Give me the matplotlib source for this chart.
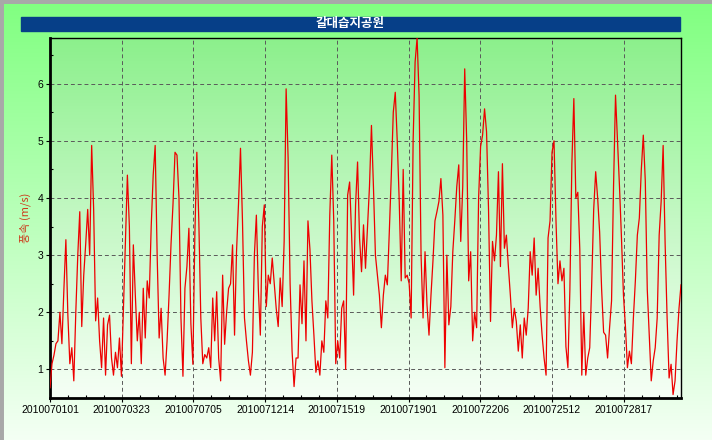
import numpy as np
import matplotlib
matplotlib.use('Agg')
import matplotlib.pyplot as plt
from matplotlib.colors import LinearSegmentedColormap
from matplotlib.patches import Rectangle

plt.rcParams['font.family'] = ['Liberation Sans', 'Noto Sans CJK KR', 'DejaVu Sans']

# wind speed (m/s) left to right
wind_speed = [
    0.68, 1.1, 1.25, 1.45, 1.5, 2.0, 1.45, 2.4, 3.27, 1.95,
    1.1, 1.38, 0.8, 2.0, 3.0, 3.76, 1.75, 2.65, 3.2, 3.8,
    3.0, 4.92, 3.8, 1.85, 2.25, 1.5, 1.03, 1.9, 0.9, 1.78,
    1.95, 1.2, 0.9, 1.3, 1.03, 1.55, 0.88, 2.07, 3.2, 4.4,
    3.5, 1.1, 3.18, 2.3, 1.5, 2.0, 1.1, 2.42, 1.55, 2.55,
    2.25, 3.5, 4.4, 4.92, 3.0, 1.55, 2.07, 1.2, 0.9, 1.5,
    2.3, 3.2, 3.9, 4.8,
    4.75, 4.0, 1.9, 0.88, 2.42, 2.8, 3.47, 1.8, 1.09, 3.35,
    4.8, 3.6, 1.9, 1.1, 1.26, 1.2, 1.38, 1.03, 2.25, 1.5,
    2.36, 1.2, 0.8, 2.65, 1.44, 2.0, 2.42, 2.5, 3.18, 1.6,
    3.06, 3.9, 4.87, 3.6, 1.9, 1.5, 1.15, 0.9, 1.3, 3.0,
    3.7, 2.4, 1.6, 3.5, 3.88, 2.1, 2.65, 2.5, 2.95, 2.5,
    2.07, 1.75, 2.6, 2.1, 3.24, 5.91, 4.7, 2.5, 1.32, 0.7,
    1.2, 1.2, 2.48, 1.8,
    2.9, 1.5, 3.6, 3.1, 2.2, 1.6, 0.95, 1.15, 0.9, 1.5,
    1.3, 2.2, 1.9, 3.7, 4.75, 3.6, 1.1, 1.5, 1.2, 2.07,
    2.2, 1.0, 4.05, 4.28, 3.35, 2.3, 3.88, 4.63, 3.3, 2.71,
    3.53, 2.77, 3.5, 4.2, 5.27, 4.2, 3.0, 2.65, 2.3, 1.73,
    2.3, 2.65, 2.48, 3.41, 4.4, 5.5, 5.85, 5.0, 3.94, 2.55,
    4.5, 2.6, 2.65, 2.5, 1.9, 5.0, 6.38, 6.8, 5.8, 3.0,
    1.9, 3.06, 2.13, 1.6,
    2.3, 2.9, 3.6, 3.76, 3.94, 4.34, 3.7, 1.03, 3.0, 1.78,
    2.1, 3.06, 3.6, 4.2, 4.58, 3.24, 4.2, 6.26, 5.0, 2.55,
    3.06, 1.5, 2.0, 1.73, 4.0, 4.9, 5.1, 5.56, 5.16, 3.8,
    1.84, 3.24, 2.9, 3.35, 4.46, 2.8, 4.6, 3.12, 3.35, 2.8,
    2.3, 1.73, 2.07, 1.84, 1.32, 1.78, 1.2, 1.9, 1.6, 2.07,
    3.06, 2.65, 3.3, 2.3, 2.77, 2.1, 1.6, 1.2, 0.9, 3.3,
    3.6, 4.8, 5.0, 3.6,
    2.5, 2.9, 2.55, 2.77, 1.4, 1.03, 2.4, 4.6, 5.74, 4.0,
    4.1, 3.1, 0.9, 2.0, 0.9, 1.2, 1.38, 2.5, 3.8, 4.46,
    4.0, 3.4, 2.4, 1.65, 1.6, 1.2, 1.73, 2.2, 4.2, 5.8,
    5.0, 4.2, 3.3, 2.3, 1.75, 1.03, 1.32, 1.1, 1.9, 2.55,
    3.35, 3.65, 4.5, 5.1, 4.3, 2.4, 1.6, 0.8, 1.15, 1.38,
    1.9, 3.35, 3.94, 4.92, 3.2, 1.9, 0.85, 1.09, 0.56, 0.8,
    1.5, 2.07, 2.48,
]

tick_labels = ['2010070101', '2010070323', '2010070705', '2010071214', '2010071519',
               '2010071901', '2010072206', '2010072512', '2010072817']
tick_every = 70      # records between labels
n_records = 616

title = '갈대습지공원'
ylabel = '풍속 (m/s)'

x = np.linspace(0, n_records, len(wind_speed))
tick_pos = np.arange(len(tick_labels)) * tick_every

fig = plt.figure(figsize=(7.12, 4.40), dpi=100)

# outer gradient background
grad = np.linspace(0, 1, 256).reshape(-1, 1)
bg = fig.add_axes([0, 0, 1, 1], zorder=-5)
bg.imshow(grad, aspect='auto', extent=[0, 1, 0, 1], origin='upper',
          cmap=LinearSegmentedColormap.from_list('outer', ['#80ff80', '#f4fff4']))
bg.set_xlim(0, 1)
bg.set_ylim(0, 1)
bg.plot([0, 0, 1], [0, 1, 1], color='#a8a8a8', lw=5, clip_on=False)
bg.set_axis_off()

# title bar
fig.patches.append(Rectangle((21 / 712, 1 - 31 / 440), 659 / 712, 14 / 440,
                             transform=fig.transFigure, color='#063f88', zorder=1))
fig.text(350.5 / 712, 1 - 24 / 440, title, ha='center', va='center', color='white',
         fontsize=9, fontweight='bold', family=['Noto Sans CJK KR', 'DejaVu Sans'])

ax = fig.add_axes([50 / 712, 1 - 398 / 440, 631 / 712, 360 / 440])
ax.patch.set_visible(False)
ax.imshow(grad, aspect='auto', extent=[0, n_records, 0.5, 6.8], origin='upper', zorder=0,
          cmap=LinearSegmentedColormap.from_list('inner', ['#8cf08c', '#c4f8c4', '#f6fff6']))
ax.plot(x, wind_speed, color='#ee0000', lw=0.9, zorder=3)

ax.set_xlim(0, n_records)
ax.set_ylim(0.5, 6.8)
ax.set_xticks(tick_pos, tick_labels)
ax.set_xticks(np.arange(0, n_records, tick_every / 4), minor=True)
ax.set_yticks(range(1, 7))
ax.set_yticks(np.arange(0.5, 6.8, 0.5), minor=True)
ax.grid(True, which='major', color='#5a5a5a', ls=(0, (4, 3)), lw=0.7)
ax.tick_params(which='major', labelsize=7.5, length=3, width=0.8, direction='out', pad=2)
ax.tick_params(which='minor', length=2.5, width=0.8, direction='in')

for side in ['left', 'bottom']:
    ax.spines[side].set_linewidth(2)
for side in ['top', 'right']:
    ax.spines[side].set_linewidth(1)

fig.text(25 / 712, 1 - 218 / 440, ylabel, rotation=90, ha='center', va='center',
         color='#cc3a1a', fontsize=8, family=['Noto Sans CJK KR', 'DejaVu Sans'])

fig.savefig('out.png', dpi=100)
